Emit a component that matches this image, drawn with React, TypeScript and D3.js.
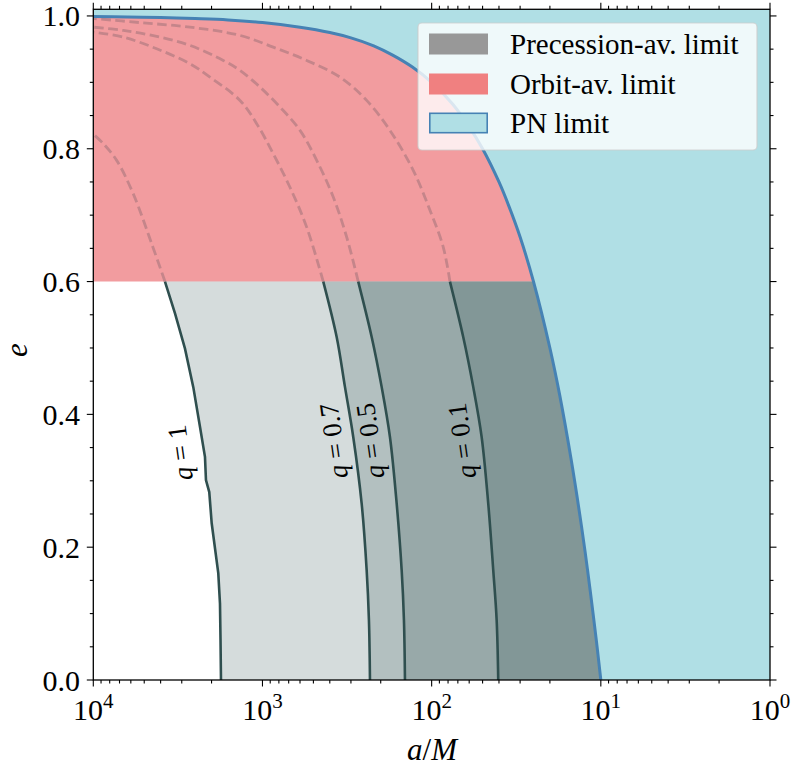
import React from "react";
import * as d3 from "d3";

// ---------- data ----------
const X_TICKS = [1e4, 1e3, 1e2, 1e1, 1e0];
const X_TICK_EXP = ["4", "3", "2", "1", "0"];
const Y_TICKS = [0, 0.2, 0.4, 0.6, 0.8, 1.0];
const Y_TICK_LABELS = ["0.0", "0.2", "0.4", "0.6", "0.8", "1.0"];

// PN limit boundary (a/M, e)
const PN_A = [10, 10.5, 11, 12, 13, 15, 17.5, 20, 25, 30, 35, 40, 50, 60, 75, 100, 130, 170, 220, 300, 400, 600, 1000, 1600, 2500, 4000, 6300, 10000];
const PN_E = [0, 0.048, 0.091, 0.167, 0.231, 0.333, 0.429, 0.5, 0.6, 0.667, 0.714, 0.75, 0.8, 0.833, 0.867, 0.9, 0.923, 0.941, 0.955, 0.967, 0.975, 0.983, 0.99, 0.994, 0.996, 0.9975, 0.9984, 0.999];

const ORBIT_E_MIN = 0.6;

const Q_LEVELS = ["1", "0.7", "0.5", "0.1"];

// solid contour parts (e <= 0.6)
const Q1_A = [1759, 1770, 1783, 1825, 1996, 2063, 2158, 2187, 2340, 2564, 2871, 3289, 3770];
const Q1_E = [0, 0.06, 0.115, 0.161, 0.236, 0.283, 0.301, 0.336, 0.381, 0.441, 0.499, 0.552, 0.6];
const Q07_A = [231.5, 234.8, 242.2, 259.3, 290.7, 325.4, 364.3, 437.2];
const Q05_A = [143.8, 145.8, 150.4, 161.0, 176.4, 197.5, 226.2, 271.6];
const Q01_A = [40.4, 41.28, 43.24, 46.3, 50.64, 56.78, 65.06, 77.95];
const QX_E = [0, 0.09, 0.1655, 0.266, 0.366, 0.4414, 0.5166, 0.6];

// dashed contour parts (e >= 0.6)
const Q1D_A = [3770, 4517, 5803, 7275, 8727, 10000];
const Q1D_E = [0.6, 0.657, 0.732, 0.7825, 0.8077, 0.822];
const Q07D_A = [437.2, 548, 688, 864, 1082, 1358, 2044, 2682, 4220, 6648, 10000];
const Q07D_E = [0.6, 0.682, 0.742, 0.7926, 0.8378, 0.8728, 0.9079, 0.928, 0.9506, 0.9681, 0.9756];
const Q05D_A = [271.6, 318, 381.6, 478, 600, 788, 1035, 1358, 1705, 2682, 4220, 6648, 10000];
const Q05D_E = [0.6, 0.6671, 0.7273, 0.7825, 0.8277, 0.8628, 0.8929, 0.918, 0.933, 0.9556, 0.9692, 0.9782, 0.9831];
const Q01D_A = [77.95, 85.4, 102.3, 128.5, 176.4, 242.2, 348.3, 548, 864, 1358, 2682, 5297, 10000];
const Q01D_E = [0.6, 0.652, 0.7073, 0.7675, 0.8277, 0.8728, 0.9079, 0.933, 0.953, 0.9707, 0.9831, 0.99, 0.9962];

// label placement along each contour: e level
const Q_LABEL_E = [0.342, 0.36, 0.36, 0.36];

const LEGEND_LABELS = ["Precession-av. limit", "Orbit-av. limit", "PN limit"];

// ---------- styling ----------
const FONT = "'Liberation Serif', 'Times New Roman', serif";
const C_BLUE = "#b0dfe5";
const C_BLUE_EDGE = "#4682b4";
const C_PINK = "#f29c9f";
const C_SLATE = "#2f4f4f";
const C_DASH = "#c5858a";

const zip = (a: number[], e: number[]): [number, number][] => a.map((v, i) => [v, e[i]]);

export default function App() {
  const L = 93.3, R = 770, T = 9.3, B = 680;
  const x = d3.scaleLog().domain([1e4, 1]).range([L, R]);
  const y = d3.scaleLinear().domain([0, 1.01]).range([B, T]);
  const line = d3
    .line<[number, number]>()
    .x((d) => x(d[0]))
    .y((d) => y(d[1]))
    .curve(d3.curveCatmullRom.alpha(0.5));
  const lin = d3
    .line<[number, number]>()
    .x((d) => x(d[0]))
    .y((d) => y(d[1]));

  const pn = zip(PN_A, PN_E);
  const pnUpper = pn.filter((d) => d[1] >= ORBIT_E_MIN);
  const pnLower = pn.filter((d) => d[1] <= ORBIT_E_MIN);

  const interiorPath = (line(pn) as string) + `L${x(1e4)},${y(0)}Z`;
  const pinkPath = (line(pnUpper) as string) + `L${x(1e4)},${y(ORBIT_E_MIN)}Z`;

  const solids = [zip(Q1_A, Q1_E), zip(Q07_A, QX_E), zip(Q05_A, QX_E), zip(Q01_A, QX_E)];
  const dashes = [zip(Q1D_A, Q1D_E), zip(Q07D_A, Q07D_E), zip(Q05D_A, Q05D_E), zip(Q01D_A, Q01D_E)];

  const pnLowerRev = line([...pnLower].reverse()) as string;
  const grayPaths = solids.map(
    (s) => (line(s) as string) + "L" + pnLowerRev.slice(1) + "Z"
  );

  const labels = solids.map((s, i) => {
    const ev = Q_LABEL_E[i];
    let px = x(s[0][0]);
    for (let k = 0; k < s.length - 1; k++) {
      if (ev >= s[k][1] && ev <= s[k + 1][1]) {
        const t = (ev - s[k][1]) / (s[k + 1][1] - s[k][1]);
        const la = Math.log10(s[k][0]) + t * (Math.log10(s[k + 1][0]) - Math.log10(s[k][0]));
        px = x(Math.pow(10, la));
      }
    }
    return { px, py: y(ev), text: Q_LEVELS[i] };
  });

  const xMinor: number[] = [];
  for (let n = 0; n < 4; n++) for (let k = 2; k <= 9; k++) xMinor.push(k * Math.pow(10, n));
  const yMinor: number[] = [];
  for (let v = 0.05; v < 1.01; v += 0.05) {
    const r = Math.round(v * 100) / 100;
    if (Math.abs(r / 0.2 - Math.round(r / 0.2)) > 1e-6) yMinor.push(r);
  }
  const MAJ = 6.5, MIN = 3.5;
  const tickStroke = { stroke: "#000", strokeWidth: 1.1 };

  const legendX = 418, legendY = 23, legendW = 339, legendH = 127;
  const rowY = [44, 84, 123];

  return (
    <svg
      width={793}
      height={771}
      style={{ position: "absolute", left: 0, top: 0, background: "#fff" }}
      fontFamily={FONT}
    >
      <defs>
        <clipPath id="plot">
          <rect x={L} y={T} width={R - L} height={B - T} />
        </clipPath>
      </defs>
      <g clipPath="url(#plot)">
        <rect x={L} y={T} width={R - L} height={B - T} fill={C_BLUE} />
        <path d={interiorPath} fill="#fff" />
        <path d={pinkPath} fill={C_PINK} />
        {grayPaths.map((d, i) => (
          <path key={i} d={d} fill={C_SLATE} fillOpacity={0.2} />
        ))}
        {dashes.map((d, i) => (
          <path
            key={"d" + i}
            d={line(d) as string}
            fill="none"
            stroke={C_DASH}
            strokeWidth={2.8}
            strokeDasharray="9.5 4.5"
          />
        ))}
        {solids.map((d, i) => (
          <path
            key={"s" + i}
            d={(i === 0 ? lin(d) : line(d)) as string}
            fill="none"
            stroke={C_SLATE}
            strokeWidth={2.6}
          />
        ))}
        <path d={line(pn) as string} fill="none" stroke={C_BLUE_EDGE} strokeWidth={3} />
      </g>

      {labels.map((lb, i) => (
        <text
          key={"l" + i}
          transform={`translate(${lb.px - (i === 0 ? 24 : 20)},${lb.py}) rotate(-98)`}
          textAnchor="middle"
          dominantBaseline="central"
          fontSize={27}
        >
          <tspan fontStyle="italic">q</tspan>
          <tspan> = {lb.text}</tspan>
        </text>
      ))}

      <rect x={L} y={T} width={R - L} height={B - T} fill="none" stroke="#000" strokeWidth={1.3} />

      {X_TICKS.map((v, i) => (
        <g key={"xt" + i}>
          <line x1={x(v)} x2={x(v)} y1={B} y2={B + MAJ} {...tickStroke} />
          <line x1={x(v)} x2={x(v)} y1={T} y2={T - MAJ} {...tickStroke} />
          <text x={x(v)} y={720} textAnchor="middle" fontSize={30}>
            10<tspan dy={-12} fontSize={21}>{X_TICK_EXP[i]}</tspan>
          </text>
        </g>
      ))}
      {xMinor.map((v, i) => (
        <g key={"xm" + i}>
          <line x1={x(v)} x2={x(v)} y1={B} y2={B + MIN} {...tickStroke} />
          <line x1={x(v)} x2={x(v)} y1={T} y2={T - MIN} {...tickStroke} />
        </g>
      ))}

      {Y_TICKS.map((v, i) => (
        <g key={"yt" + i}>
          <line x1={L} x2={L - MAJ} y1={y(v)} y2={y(v)} {...tickStroke} />
          <line x1={R} x2={R + MAJ} y1={y(v)} y2={y(v)} {...tickStroke} />
          <text x={80} y={y(v)} textAnchor="end" dominantBaseline="central" fontSize={30}>
            {Y_TICK_LABELS[i]}
          </text>
        </g>
      ))}
      {yMinor.map((v, i) => (
        <g key={"ym" + i}>
          <line x1={L} x2={L - MIN} y1={y(v)} y2={y(v)} {...tickStroke} />
          <line x1={R} x2={R + MIN} y1={y(v)} y2={y(v)} {...tickStroke} />
        </g>
      ))}

      <text x={432} y={760} textAnchor="middle" fontSize={31}>
        <tspan fontStyle="italic">a</tspan>/<tspan fontStyle="italic">M</tspan>
      </text>
      <text
        transform={`translate(27,350) rotate(-90)`}
        textAnchor="middle"
        fontSize={31}
        fontStyle="italic"
      >
        e
      </text>

      <rect
        x={legendX}
        y={legendY}
        width={legendW}
        height={legendH}
        rx={4}
        fill="#fff"
        fillOpacity={0.8}
        stroke="#cccccc"
        strokeOpacity={0.8}
        strokeWidth={1.2}
      />
      <rect x={429} y={rowY[0] - 10.5} width={59} height={21} fill="#989898" />
      <rect x={429} y={rowY[1] - 10.5} width={59} height={21} fill="#f08080" />
      <rect x={429.8} y={rowY[2] - 9.7} width={57.4} height={19.4} fill={C_BLUE} stroke={C_BLUE_EDGE} strokeWidth={1.6} />
      {LEGEND_LABELS.map((t, i) => (
        <text key={"lg" + i} x={510} y={rowY[i]} dominantBaseline="central" fontSize={29}>
          {t}
        </text>
      ))}
    </svg>
  );
}
